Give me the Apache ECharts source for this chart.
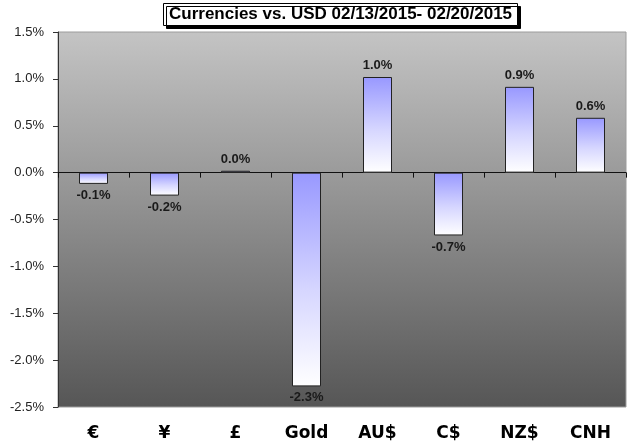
<!DOCTYPE html>
<html>
<head>
<meta charset="utf-8">
<script src="https://cdn.jsdelivr.net/npm/echarts@6/dist/echarts.min.js"></script>
<style>
html,body{margin:0;padding:0;background:#fff;}
#c{width:629px;height:446px;}
</style>
</head>
<body>
<div id="c"></div>
<script>
const titleText = 'Currencies vs. USD 02/13/2015- 02/20/2015';
const categories = ['€', '¥', '£', 'Gold', 'AU$', 'C$', 'NZ$', 'CNH'];
const changes = [-0.12, -0.245, 0.02, -2.28, 1.02, -0.67, 0.915, 0.585];
const yTicks = { min: -2.5, max: 1.5, interval: 0.5 };

const chart = echarts.init(document.getElementById('c'), null, { renderer: 'canvas' });

const barFill = new echarts.graphic.LinearGradient(0, 0, 0, 1, [
  { offset: 0, color: '#9898ff' },
  { offset: 0.55, color: '#d6d6ff' },
  { offset: 1, color: '#ffffff' }
]);

const seriesData = changes.map(v => ({
  value: v,
  label: { position: v >= 0 ? 'top' : 'bottom' }
}));

chart.setOption({
  backgroundColor: '#ffffff',
  animation: false,
  title: {
    text: titleText,
    left: 163,
    top: 3,
    padding: [3, 6, 3, 6],
    backgroundColor: '#ffffff',
    borderColor: '#000000',
    borderWidth: 1,
    shadowColor: '#000000',
    shadowOffsetX: 3,
    shadowOffsetY: 3,
    shadowBlur: 0,
    textStyle: {
      fontFamily: 'Liberation Sans, Arial, sans-serif',
      fontWeight: 'bold',
      fontSize: 17,
      color: '#000'
    }
  },
  grid: {
    left: 58, right: 3, top: 32, bottom: 39,
    show: true,
    borderWidth: 1,
    borderColor: '#9c9c9c',
    backgroundColor: new echarts.graphic.LinearGradient(0, 0, 0, 1, [
      { offset: 0, color: '#c4c4c4' },
      { offset: 1, color: '#565656' }
    ])
  },
  xAxis: [
    {
      type: 'category',
      data: categories,
      position: 'bottom',
      axisLine: { onZero: true, lineStyle: { color: '#111', width: 1 } },
      axisTick: { show: true, length: 5, lineStyle: { color: '#111' } },
      axisLabel: { show: false },
      splitLine: { show: false }
    },
    {
      type: 'category',
      data: categories,
      position: 'bottom',
      axisLine: { show: false, onZero: false },
      axisTick: { show: false },
      axisLabel: {
        show: true,
        margin: 18,
        fontFamily: 'DejaVu Sans, Verdana, sans-serif',
        fontWeight: 'bold',
        fontSize: 17,
        color: '#000'
      }
    }
  ],
  yAxis: {
    type: 'value',
    min: yTicks.min,
    max: yTicks.max,
    interval: yTicks.interval,
    axisLine: { show: true, lineStyle: { color: '#333', width: 1 } },
    axisTick: { show: true, length: 5, lineStyle: { color: '#333' } },
    splitLine: { show: false },
    axisLabel: {
      margin: 14,
      fontFamily: 'Liberation Sans, Arial, sans-serif',
      fontSize: 13,
      color: '#222',
      formatter: v => v.toFixed(1) + '%'
    }
  },
  series: [{
    type: 'bar',
    xAxisIndex: 0,
    data: seriesData,
    barWidth: 29,
    itemStyle: { color: barFill, borderColor: '#222', borderWidth: 1 },
    label: {
      show: true,
      distance: 5,
      fontFamily: 'Liberation Sans, Arial, sans-serif',
      fontWeight: 'bold',
      fontSize: 13,
      color: '#1a1a1a',
      formatter: p => p.value.toFixed(1) + '%'
    }
  }]
});
</script>
</body>
</html>
